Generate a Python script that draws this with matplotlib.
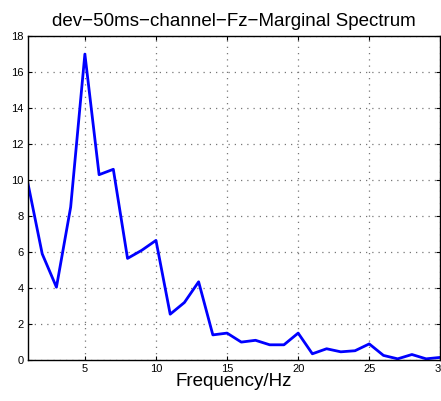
import numpy as np
import matplotlib
matplotlib.use("Agg")
import matplotlib.pyplot as plt

plt.rcParams['font.family'] = ['Liberation Sans', 'DejaVu Sans']

freq = np.arange(1, 31)
spectrum = [9.8, 5.9, 4.05, 8.5, 17.0, 10.3, 10.6, 5.65, 6.1, 6.65,
            2.55, 3.2, 4.35, 1.4, 1.5, 1.0, 1.1, 0.85, 0.85, 1.5,
            0.35, 0.63, 0.46, 0.52, 0.9, 0.26, 0.07, 0.31, 0.07, 0.15]
xticks = [5, 10, 15, 20, 25, 30]
yticks = list(range(0, 19, 2))

fig = plt.figure(figsize=(4.41, 4.01), dpi=100)
ax = fig.add_axes([0.0635, 0.102, 0.935, 0.808])
ax.plot(freq, spectrum, color='#0000ff', lw=2)
ax.set_xlim(1, 30)
ax.set_ylim(0, 18)
ax.set_xticks(xticks)
ax.set_yticks(yticks)
ax.tick_params(direction='in', labelsize=8, top=True, right=True, length=3,
               pad=3)
ax.grid(True, linestyle=(0, (1, 4)), color='#777777', lw=0.9)
ax.set_title('dev\u221250ms\u2212channel\u2212Fz\u2212Marginal Spectrum',
             fontsize=13.5, pad=7)
ax.set_xlabel('Frequency/Hz', fontsize=13.5, labelpad=-1)
for s in ax.spines.values():
    s.set_linewidth(1.0)

fig.savefig('out.png', dpi=100)
